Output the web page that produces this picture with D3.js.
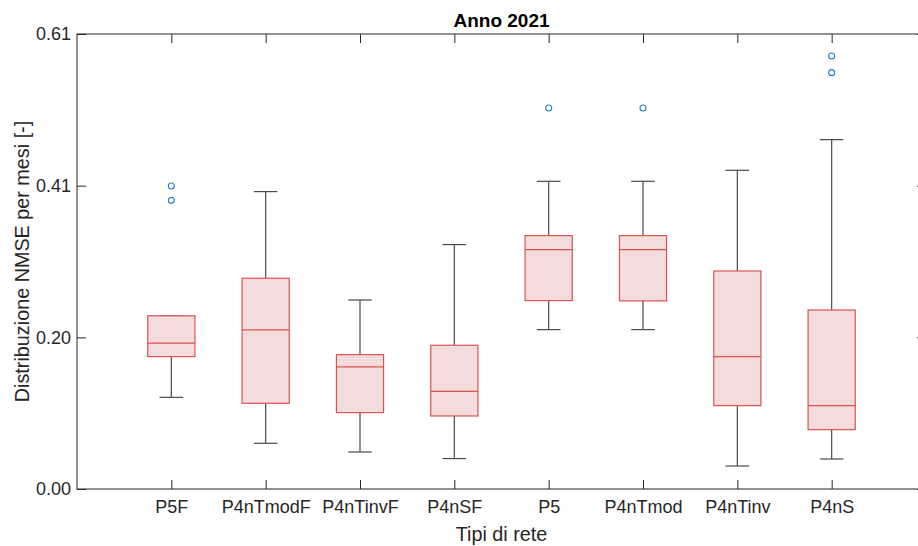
<!DOCTYPE html>
<html>
<head>
<meta charset="utf-8">
<script src="https://cdn.jsdelivr.net/npm/d3@7"></script>
<style>
  body { margin: 0; background: #fff; }
  svg { display: block; font-family: "Liberation Sans", Arial, sans-serif; }
</style>
</head>
<body>
<script>
var categories = ["P5F", "P4nTmodF", "P4nTinvF", "P4nSF", "P5", "P4nTmod", "P4nTinv", "P4nS"];
var whiskerLo = [0.1229, 0.0613, 0.0496, 0.0408, 0.2137, 0.2137, 0.0308, 0.0402];
var q1        = [0.1775, 0.1149, 0.1024, 0.0979, 0.2526, 0.2522, 0.1118, 0.0796];
var median    = [0.1957, 0.2132, 0.1636, 0.1310, 0.3210, 0.3210, 0.1775, 0.1118];
var q3        = [0.2322, 0.2825, 0.1802, 0.1927, 0.3397, 0.3397, 0.2923, 0.2400];
var whiskerHi = [0.2322, 0.3987, 0.2534, 0.3277, 0.4125, 0.4125, 0.4273, 0.4684];
var outliers  = [[0.4062, 0.3870], [], [], [], [0.5108], [0.5108], [], [0.5805, 0.5582]];
var yTicks = [0, 0.61 / 3, 0.61 * 2 / 3, 0.61];
var yTickLabels = ["0.00", "0.20", "0.41", "0.61"];

var width = 918,
	height = 546,
	padL = 77, padR = 926, padT = 34, padB = 489;

var edge = "#d95350",
	fill = "#f5dcdc",
	whisk = "#4a4a4a",
	dot = "#1f7fcf",
	axisCol = "#262626";

var svg = d3.select("body").append("svg")
	.attr("width", width)
	.attr("height", height);

var x = d3.scalePoint()
	.domain(categories)
	.range([padL, padR])
	.padding(1);

var y = d3.scaleLinear()
	.domain([0, 0.61])
	.range([padB, padT]);

var bw = x.step() * 0.5,
	cw = x.step() * 0.25;

var rows = categories.map(function(c, i) {
	return {c: c, lo: whiskerLo[i], q1: q1[i], med: median[i], q3: q3[i], hi: whiskerHi[i], out: outliers[i]};
});

var g = svg.append("g").selectAll("g").data(rows).enter().append("g");

// whiskers
g.append("line")
	.attr("x1", function(d) { return x(d.c); }).attr("x2", function(d) { return x(d.c); })
	.attr("y1", function(d) { return y(d.q3); }).attr("y2", function(d) { return y(d.hi); })
	.attr("stroke", whisk).attr("stroke-width", 1.2);
g.append("line")
	.attr("x1", function(d) { return x(d.c); }).attr("x2", function(d) { return x(d.c); })
	.attr("y1", function(d) { return y(d.q1); }).attr("y2", function(d) { return y(d.lo); })
	.attr("stroke", whisk).attr("stroke-width", 1.2);
g.append("line")
	.attr("x1", function(d) { return x(d.c) - cw / 2; }).attr("x2", function(d) { return x(d.c) + cw / 2; })
	.attr("y1", function(d) { return y(d.hi); }).attr("y2", function(d) { return y(d.hi); })
	.attr("stroke", whisk).attr("stroke-width", 1.2);
g.append("line")
	.attr("x1", function(d) { return x(d.c) - cw / 2; }).attr("x2", function(d) { return x(d.c) + cw / 2; })
	.attr("y1", function(d) { return y(d.lo); }).attr("y2", function(d) { return y(d.lo); })
	.attr("stroke", whisk).attr("stroke-width", 1.2);

// boxes
g.append("rect")
	.attr("x", function(d) { return x(d.c) - bw / 2; })
	.attr("y", function(d) { return y(d.q3); })
	.attr("width", bw)
	.attr("height", function(d) { return y(d.q1) - y(d.q3); })
	.attr("fill", fill).attr("stroke", edge).attr("stroke-width", 1.2);
g.append("line")
	.attr("x1", function(d) { return x(d.c) - bw / 2; }).attr("x2", function(d) { return x(d.c) + bw / 2; })
	.attr("y1", function(d) { return y(d.med); }).attr("y2", function(d) { return y(d.med); })
	.attr("stroke", edge).attr("stroke-width", 1.2);

// outliers
g.selectAll("circle").data(function(d) { return d.out.map(function(v) { return {c: d.c, v: v}; }); })
	.enter().append("circle")
	.attr("cx", function(d) { return x(d.c); })
	.attr("cy", function(d) { return y(d.v); })
	.attr("r", 3)
	.attr("fill", "none").attr("stroke", dot).attr("stroke-width", 1.1);

// axes
var fs = "18px";
var ax = svg.append("g").attr("transform", "translate(" + padL + ",0)")
	.call(d3.axisLeft(y).tickValues(yTicks).tickFormat(function(d, i) { return yTickLabels[i]; })
		.tickSizeInner(-9).tickSizeOuter(0).tickPadding(6));
var bx = svg.append("g").attr("transform", "translate(0," + padB + ")")
	.call(d3.axisBottom(x).tickSizeInner(-9).tickSizeOuter(0).tickPadding(11));
var tx = svg.append("g").attr("transform", "translate(0," + padT + ")")
	.call(d3.axisTop(x).tickSizeInner(-9).tickSizeOuter(0).tickFormat(""));
var rx = svg.append("g").attr("transform", "translate(" + padR + ",0)")
	.call(d3.axisRight(y).tickValues(yTicks).tickSizeInner(-9).tickSizeOuter(0).tickFormat(""));

[ax, bx, tx, rx].forEach(function(a) {
	a.select(".domain").remove();
	a.selectAll("line").attr("stroke", axisCol);
	a.selectAll("text").attr("fill", axisCol).style("font-size", fs);
	a.attr("font-family", null);
});

svg.append("rect")
	.attr("x", padL).attr("y", padT)
	.attr("width", padR - padL).attr("height", padB - padT)
	.attr("fill", "none").attr("stroke", axisCol).attr("stroke-width", 1);

svg.append("text")
	.attr("x", (padL + padR) / 2).attr("y", 26.5)
	.attr("text-anchor", "middle")
	.attr("font-weight", "bold").attr("font-size", "19px").attr("fill", "#000")
	.text("Anno 2021");

svg.append("text")
	.attr("x", (padL + padR) / 2).attr("y", 541)
	.attr("text-anchor", "middle")
	.attr("font-size", "19.8px").attr("fill", axisCol)
	.text("Tipi di rete");

svg.append("text")
	.attr("transform", "translate(29," + (padT + padB) / 2 + ") rotate(-90)")
	.attr("text-anchor", "middle")
	.attr("font-size", "19.8px").attr("fill", axisCol)
	.text("Distribuzione NMSE per mesi [-]");
</script>
</body>
</html>
